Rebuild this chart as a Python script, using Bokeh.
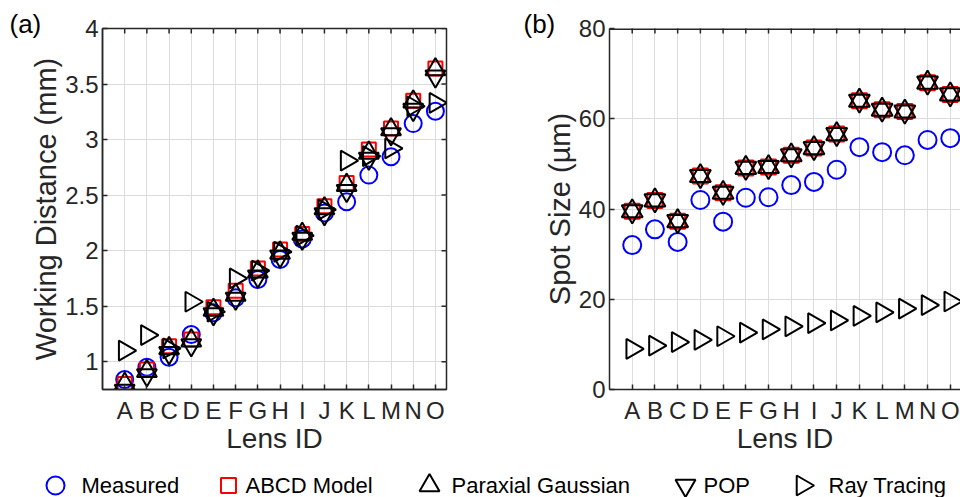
import math
from bokeh.plotting import figure
from bokeh.models import Range1d, FixedTicker, Title, Span
from bokeh.core.properties import value
from bokeh.layouts import row, column
from bokeh.embed import file_html
from bokeh.resources import INLINE

# ---------------- data ----------------
lens_ids = ["A", "B", "C", "D", "E", "F", "G", "H", "I", "J", "K", "L", "M", "N", "O"]
lens_pos = list(range(1, 16))

wd_measured = [0.84, 0.95, 1.04, 1.245, 1.44, 1.575, 1.74, 1.92, 2.105, 2.34, 2.44, 2.68, 2.845, 3.144, 3.255]
wd_abcd     = [0.80, 0.93, 1.14, 1.20, 1.49, 1.64, 1.84, 2.01, 2.15, 2.40, 2.61, 2.91, 3.10, 3.35, 3.64]
wd_paraxial = [0.80, 0.915, 1.12, 1.19, 1.465, 1.60, 1.81, 1.98, 2.15, 2.38, 2.59, 2.88, 3.09, 3.34, 3.63]
wd_pop      = [0.74, 0.88, 1.08, 1.15, 1.43, 1.57, 1.77, 1.95, 2.11, 2.33, 2.54, 2.83, 3.05, 3.27, 3.57]
wd_ray      = [1.10, 1.24, 1.12, 1.54, 1.45, 1.75, 1.82, 1.99, 2.135, 2.37, 2.81, 2.85, 2.92, 3.30, 3.33]

spot_measured = [32.0, 35.5, 32.7, 42.0, 37.2, 42.5, 42.6, 45.3, 46.0, 48.7, 53.7, 52.6, 51.9, 55.3, 55.7]
spot_abcd     = [39.5, 41.9, 37.3, 47.3, 43.6, 49.1, 49.3, 51.9, 53.5, 56.6, 64.0, 62.0, 61.6, 68.0, 65.4]
spot_paraxial = [39.5, 41.9, 37.3, 47.3, 43.6, 49.1, 49.3, 51.9, 53.5, 56.6, 64.0, 62.0, 61.6, 68.0, 65.4]
spot_pop      = [39.5, 41.9, 37.3, 47.3, 43.6, 49.1, 49.3, 51.9, 53.5, 56.6, 64.0, 62.0, 61.6, 68.0, 65.4]
spot_ray      = [9.0, 9.7, 10.5, 11.0, 11.8, 12.6, 13.3, 14.0, 14.7, 15.3, 16.3, 17.1, 17.9, 18.7, 19.5]

wd_ticks = [1, 1.5, 2, 2.5, 3, 3.5, 4]
wd_tick_labels = ["1", "1.5", "2", "2.5", "3", "3.5", "4"]
spot_ticks = [0, 20, 40, 60, 80]
spot_tick_labels = ["0", "20", "40", "60", "80"]

series_names = ["Measured", "ABCD Model", "Paraxial Gaussian", "POP", "Ray Tracing"]

# ---------------- styles / layout ----------------
FONT = "Liberation Sans"
AX = "#262626"
GRID = "#dcdcdc"
STYLES = [
    dict(marker="circle", line_color="#0000ff", angle=0.0),
    dict(marker="square", line_color="#ff0000", angle=0.0),
    dict(marker="triangle", line_color="#000000", angle=0.0),
    dict(marker="inverted_triangle", line_color="#000000", angle=0.0),
    dict(marker="triangle", line_color="#000000", angle=-math.pi / 2),
]
# legend strip layout (screen pixels inside the strip)
LEG_MARKER_X = [55, 228, 429, 685, 802]
LEG_TEXT_X = [81, 245, 451, 703, 828]
LEG_SIZES = [18, 15, 20, 20, 20]
LEG_Y = 12


def style_axis(ax, ticks, labels, title_size):
    ax.ticker = FixedTicker(ticks=ticks)
    ax.major_label_overrides = dict(zip(ticks, labels))
    ax.axis_line_color = AX
    ax.axis_line_width = 1.5
    ax.major_tick_line_color = AX
    ax.major_tick_line_width = 1.5
    ax.major_tick_in = 5
    ax.major_tick_out = 0
    ax.minor_tick_line_color = None
    ax.major_label_text_font = FONT
    ax.major_label_text_color = AX
    ax.major_label_text_font_size = "24px"
    ax.axis_label_text_font = FONT
    ax.axis_label_text_font_size = title_size
    ax.axis_label_text_font_style = "normal"
    ax.axis_label_text_color = AX


def make_panel(width, mbl, mbr, x_end, y_start, y_end, yticks, ylabels, ylabel,
               series, sizes, tag, tag_offset, full_box):
    p = figure(width=width, height=462, output_backend="svg", toolbar_location=None,
               x_range=Range1d(0, x_end), y_range=Range1d(y_start, y_end),
               min_border_left=mbl, min_border_right=mbr, min_border_top=28,
               min_border_bottom=73)
    p.background_fill_color = "white"
    if full_box:
        p.outline_line_color = AX
        p.outline_line_width = 1.5
    else:
        p.outline_line_color = None
        p.add_layout(Span(location=y_end, dimension="width", line_color=AX, line_width=3))

    style_axis(p.xaxis[0], lens_pos, lens_ids, "28px")
    p.xaxis[0].axis_label = "Lens ID"
    p.xaxis[0].major_label_standoff = 7
    p.xaxis[0].axis_label_standoff = -4
    style_axis(p.yaxis[0], yticks, ylabels, "29px")
    p.yaxis[0].axis_label = ylabel
    p.yaxis[0].major_label_standoff = 4
    p.yaxis[0].axis_label_standoff = 0

    p.xgrid.ticker = FixedTicker(ticks=lens_pos)
    p.ygrid.ticker = FixedTicker(ticks=yticks)
    for g in (p.xgrid, p.ygrid):
        g.grid_line_color = GRID
        g.grid_line_width = 1

    # inward box ticks on the top (and right) edges, clipped by the frame
    p.scatter(lens_pos, [y_end] * len(lens_pos), marker="dash", angle=math.pi / 2,
              size=10, line_color=AX, line_width=1.5)
    if full_box:
        p.scatter([x_end] * len(yticks), yticks, marker="dash", size=10,
                  line_color=AX, line_width=1.5)

    for vals, st, sz in zip(series, STYLES, sizes):
        p.scatter(lens_pos, vals, marker=st["marker"], angle=st["angle"], size=sz,
                  fill_color=None, line_color=st["line_color"], line_width=2)

    p.add_layout(Title(text=tag, align="left", vertical_align="bottom",
                       offset=tag_offset, standoff=-20, text_font=FONT,
                       text_font_size="26px", text_font_style="normal",
                       text_color="black"), "above")
    return p


p1 = make_panel(515, 102, 69, 15.5, 0.75, 4, wd_ticks, wd_tick_labels,
                "Working Distance (mm)",
                [wd_measured, wd_abcd, wd_paraxial, wd_pop, wd_ray],
                [17, 14, 20, 20, 20], "(a)", -93, True)
p2 = make_panel(445, 94, 0, 15.45, 0, 80, spot_ticks, spot_tick_labels,
                "Spot Size (µm)",
                [spot_measured, spot_abcd, spot_paraxial, spot_pop, spot_ray],
                [18, 15, 21, 21, 20], "(b)", -86, False)

# ---------------- legend strip ----------------
leg = figure(width=960, height=35, output_backend="svg", toolbar_location=None,
             x_range=Range1d(0, 960), y_range=Range1d(0, 35), min_border=0)
leg.axis.visible = False
leg.grid.visible = False
leg.outline_line_color = None
for mx, st, sz in zip(LEG_MARKER_X, STYLES, LEG_SIZES):
    leg.scatter([mx], [LEG_Y], marker=st["marker"], angle=st["angle"], size=sz,
                fill_color=None, line_color=st["line_color"], line_width=2)
leg.text(x=LEG_TEXT_X, y=[LEG_Y] * len(series_names), text=series_names,
         text_font=value(FONT), text_font_size="22px", text_color="black",
         text_baseline="middle", text_align="left")

layout = column(row(p1, p2), leg)
open("out.html", "w").write(file_html(layout, INLINE))
